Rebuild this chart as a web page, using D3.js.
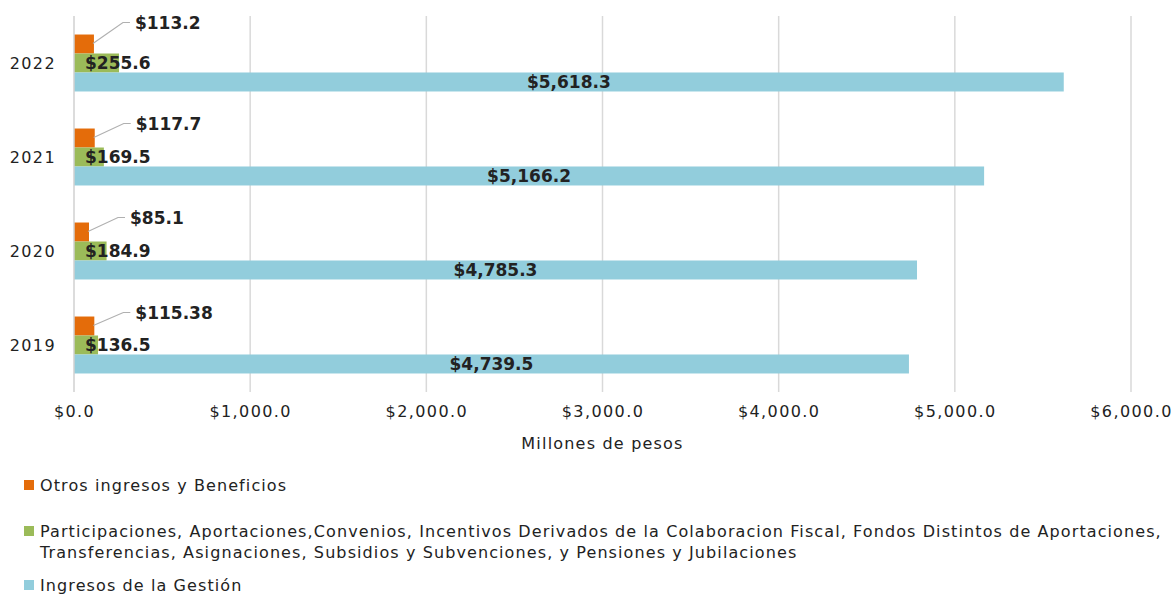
<!DOCTYPE html>
<html>
<head>
<meta charset="utf-8">
<script src="https://cdn.jsdelivr.net/npm/d3@7"></script>
<style>
  body { margin: 0; background: #fff; }
  text { font-family: "DejaVu Sans", sans-serif; fill: #222; }
</style>
</head>
<body>
<div id="chart"></div>
<script>
// data (top to bottom)
var years = ["2022", "2021", "2020", "2019"];
var otros = [113.2, 117.7, 85.1, 115.38];
var participaciones = [255.6, 169.5, 184.9, 136.5];
var gestion = [5618.3, 5166.2, 4785.3, 4739.5];
var xTicks = [0, 1000, 2000, 3000, 4000, 5000, 6000];
var seriesNames = ["Otros ingresos y Beneficios",
  "Participaciones, Aportaciones,Convenios, Incentivos Derivados de la Colaboracion Fiscal, Fondos Distintos de Aportaciones,|Transferencias, Asignaciones, Subsidios y Subvenciones, y Pensiones y Jubilaciones",
  "Ingresos de la Gestión"];
var colors = ["#E46C0A", "#9BBB59", "#92CDDC"];

var width = 1175, height = 594;
var margin = { top: 16, right: 44, bottom: 202, left: 74 };

var svg = d3.select("#chart").append("svg")
  .attr("width", width)
  .attr("height", height);

var x = d3.scaleLinear()
  .domain([0, 6000])
  .range([margin.left, width - margin.right]);

var y = d3.scaleBand()
  .domain(years)
  .range([margin.top, height - margin.bottom])
  .paddingInner(0.394)
  .paddingOuter(0.197);

var sub = d3.scaleBand()
  .domain([0, 1, 2])
  .range([0, y.bandwidth()]);

// gridlines
svg.append("g")
  .selectAll("line")
  .data(xTicks.slice(1))
  .join("line")
  .attr("x1", d => x(d)).attr("x2", d => x(d))
  .attr("y1", margin.top).attr("y2", height - margin.bottom)
  .attr("stroke", "#d9d9d9")
  .attr("stroke-width", 1.5);

// x axis labels
var xAxis = svg.append("g")
  .attr("transform", "translate(0," + (height - margin.bottom) + ")")
  .call(d3.axisBottom(x).tickValues(xTicks).tickFormat(d3.format("$,.1f")).tickSize(0).tickPadding(14));
xAxis.select(".domain").remove();
xAxis.selectAll("text")
  .attr("font-size", 16)
  .attr("letter-spacing", 1.4)
  .attr("fill", "#222")
  .style("font-family", "DejaVu Sans");

svg.append("text")
  .attr("x", (x(0) + x(6000)) / 2)
  .attr("y", 449)
  .attr("text-anchor", "middle")
  .attr("font-size", 16)
  .attr("letter-spacing", 1.2)
  .text("Millones de pesos");

// bars
var rows = years.map(function (yr, i) {
  return { year: yr, vals: [otros[i], participaciones[i], gestion[i]] };
});

var groups = svg.append("g")
  .selectAll("g")
  .data(rows)
  .join("g")
  .attr("transform", d => "translate(0," + y(d.year) + ")");

groups.selectAll("rect")
  .data(d => d.vals.map((v, k) => ({ k: k, v: v })))
  .join("rect")
  .attr("x", x(0))
  .attr("y", d => sub(d.k))
  .attr("width", d => x(d.v) - x(0))
  .attr("height", sub.bandwidth())
  .attr("fill", d => colors[d.k]);

// vertical axis line
svg.append("line")
  .attr("x1", x(0)).attr("x2", x(0))
  .attr("y1", margin.top).attr("y2", height - margin.bottom)
  .attr("stroke", "#d0d0d0")
  .attr("stroke-width", 1.5);

// year labels
svg.append("g")
  .selectAll("text")
  .data(years)
  .join("text")
  .attr("x", 56)
  .attr("y", d => y(d) + y.bandwidth() / 2)
  .attr("dy", "0.35em")
  .attr("text-anchor", "end")
  .attr("font-size", 16)
  .attr("letter-spacing", 1.4)
  .text(d => d);

var fmt = v => "$" + d3.format(",")(v);
var bold = sel => sel.attr("font-size", 17).attr("font-weight", "bold").attr("fill", "#000");

// blue labels, centred in bar
groups.append("text")
  .attr("x", d => (x(0) + x(d.vals[2])) / 2)
  .attr("y", sub(2) + sub.bandwidth() / 2)
  .attr("dy", "0.36em")
  .attr("text-anchor", "middle")
  .call(bold)
  .text(d => fmt(d.vals[2]));

// green labels, inside base
groups.append("text")
  .attr("x", x(0) + 11)
  .attr("y", sub(1) + sub.bandwidth() / 2)
  .attr("dy", "0.36em")
  .call(bold)
  .text(d => fmt(d.vals[1]));

// orange labels with leader lines
var lift = [12, 5, 5, 4];
groups.append("polyline")
  .attr("points", (d, i) => {
    var bx = x(d.vals[0]) - 1, by = sub(0) + 9, ly = sub(0) - lift[i];
    return [[bx, by], [bx + 30, ly], [bx + 37, ly]].join(" ");
  })
  .attr("fill", "none")
  .attr("stroke", "#b0b0b0")
  .attr("stroke-width", 1.2);

groups.append("text")
  .attr("x", d => x(d.vals[0]) + 41)
  .attr("y", (d, i) => sub(0) - lift[i])
  .attr("dy", "0.36em")
  .call(bold)
  .text(d => fmt(d.vals[0]));

// legend
var legendY = [485, 531, 585];
var leg = svg.append("g")
  .selectAll("g")
  .data(seriesNames)
  .join("g")
  .attr("transform", (d, i) => "translate(24," + legendY[i] + ")");

leg.append("rect")
  .attr("x", 0).attr("y", -5)
  .attr("width", 10).attr("height", 10)
  .attr("fill", (d, i) => colors[i]);

leg.append("text")
  .attr("font-size", 16)
  .attr("letter-spacing", 1.1)
  .selectAll("tspan")
  .data(d => d.split("|"))
  .join("tspan")
  .attr("x", 16)
  .attr("y", (d, j) => j * 21)
  .attr("dy", "0.36em")
  .text(d => d);
</script>
</body>
</html>
